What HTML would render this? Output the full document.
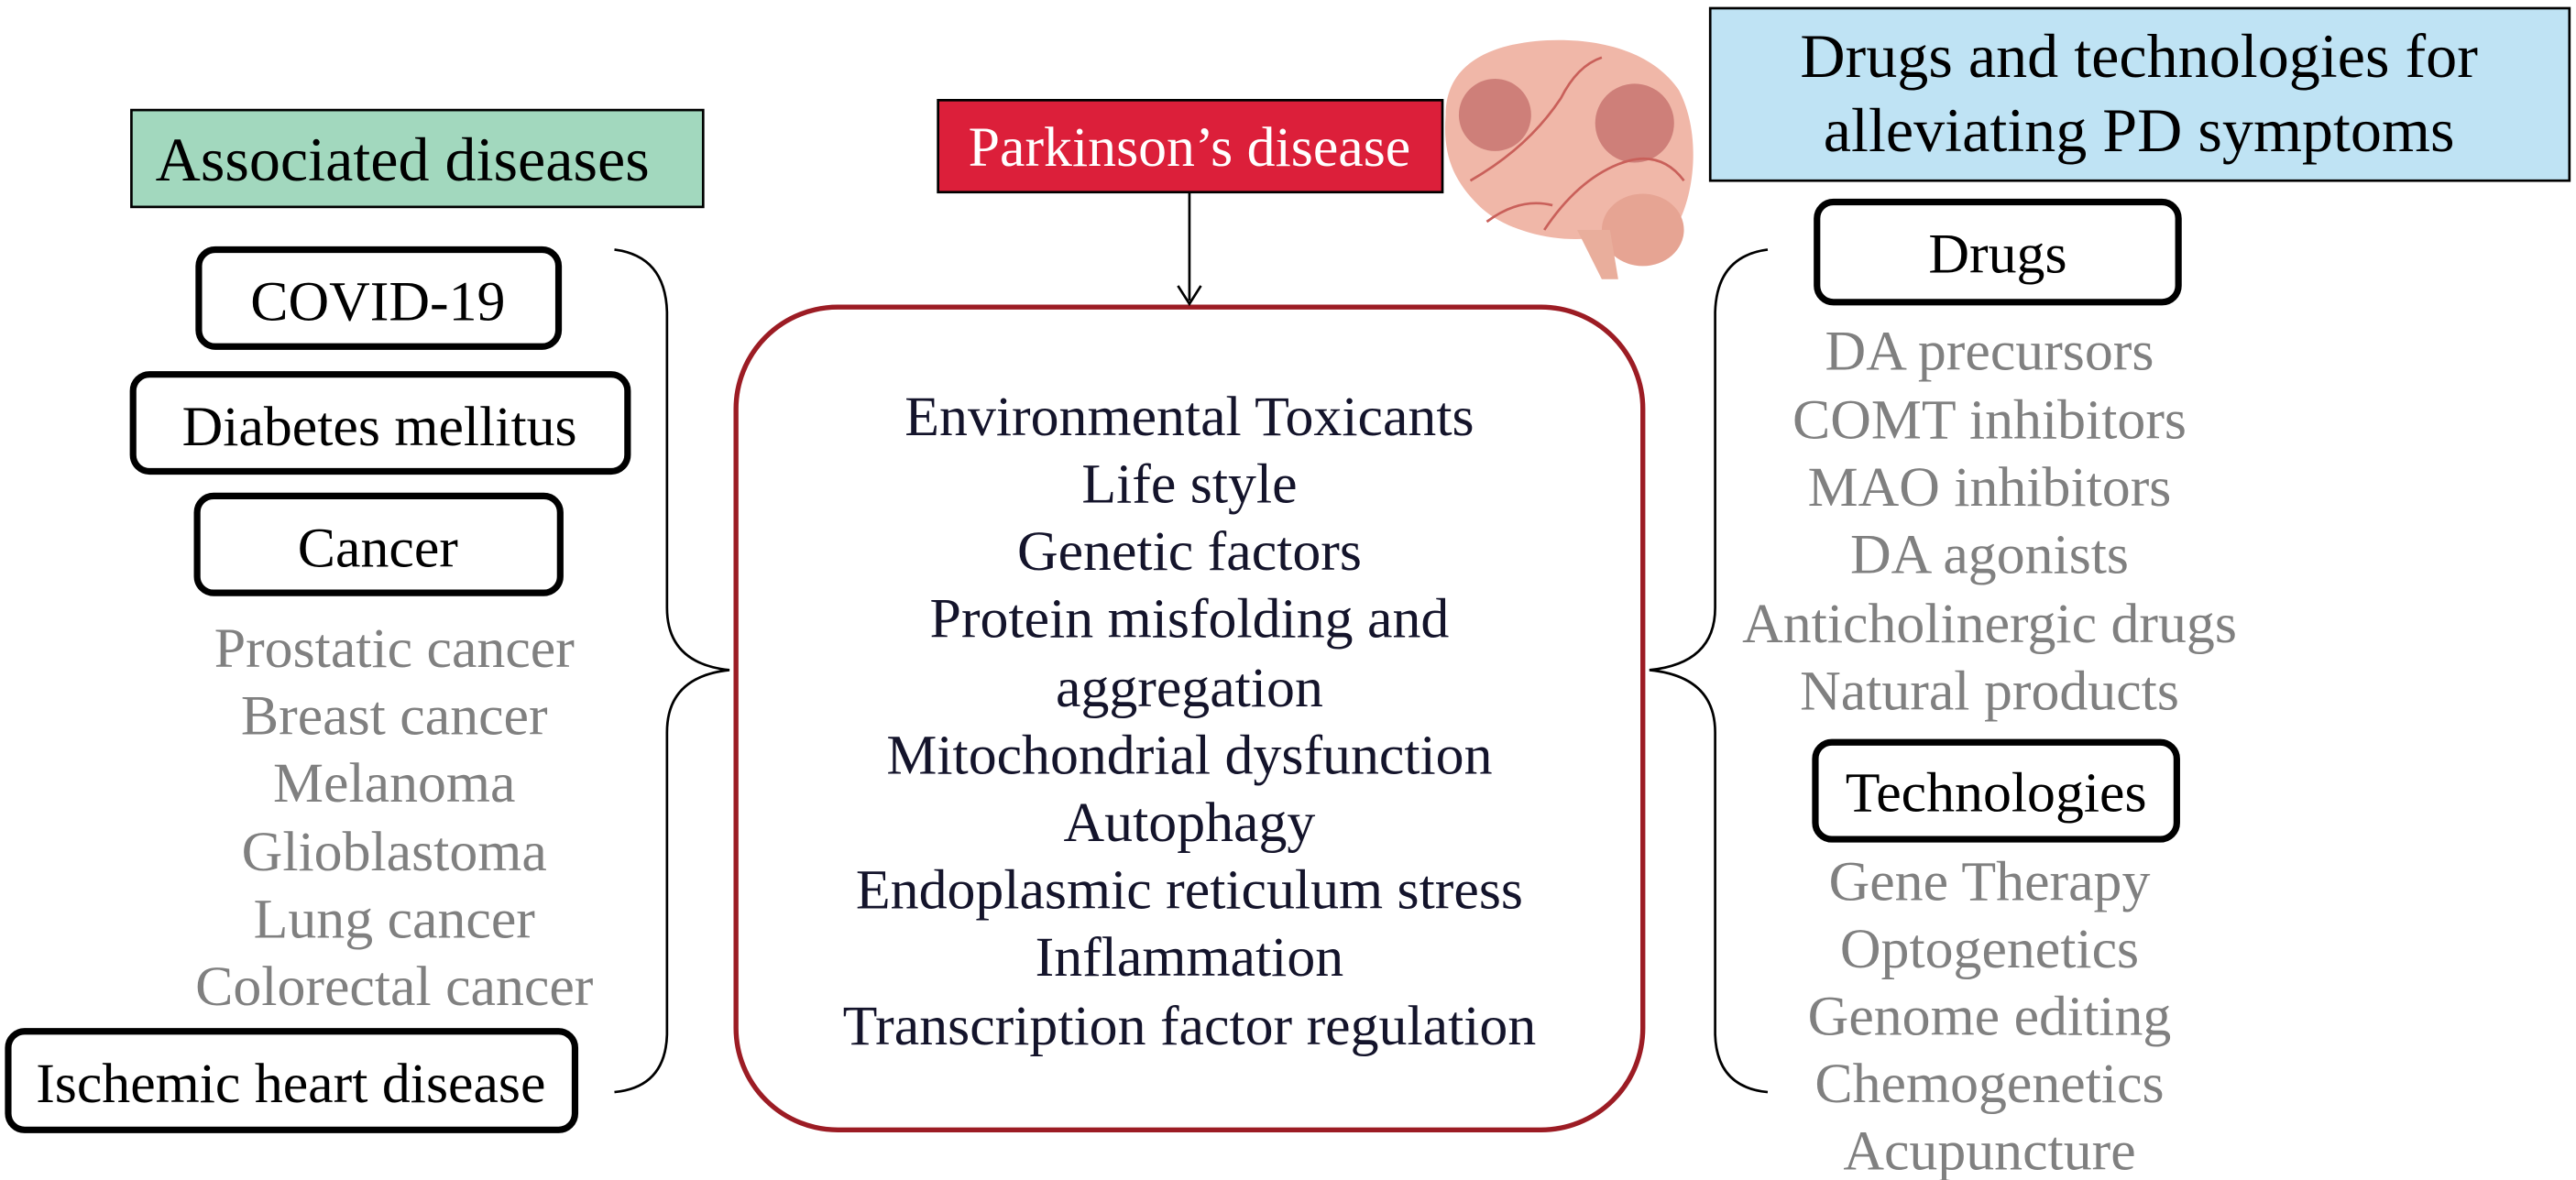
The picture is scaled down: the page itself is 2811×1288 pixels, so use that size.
<!DOCTYPE html>
<html><head><meta charset="utf-8"><style>
html,body{margin:0;padding:0;background:#fff;}
svg{display:block;}
text{font-family:"Liberation Serif",serif;}
</style></head><body>
<svg width="2811" height="1288" viewBox="0 0 1568 718.5" preserveAspectRatio="none" xmlns="http://www.w3.org/2000/svg">
<rect width="1568" height="718.5" fill="#fff"/>
<!-- Associated diseases -->
<rect x="80" y="67" width="348" height="59" fill="#a2d8be" stroke="#000" stroke-width="1.5"/>
<text x="245" y="110" font-size="38" text-anchor="middle">Associated diseases</text>

<g fill="#fff" stroke="#000" stroke-width="4">
<rect x="121" y="152" width="219" height="59" rx="10"/>
<rect x="81" y="228" width="301" height="59" rx="10"/>
<rect x="120" y="302" width="221" height="59" rx="10"/>
<rect x="5" y="628" width="345" height="60" rx="10"/>
<rect x="1106" y="123" width="220" height="61" rx="10"/>
<rect x="1105" y="452" width="220" height="59" rx="10"/>
</g>
<g font-size="34.5" text-anchor="middle" fill="#000">
<text x="230" y="195">COVID-19</text>
<text x="231" y="271">Diabetes mellitus</text>
<text x="230" y="345">Cancer</text>
<text x="177" y="671">Ischemic heart disease</text>
<text x="1216" y="166">Drugs</text>
<text x="1215" y="494">Technologies</text>
</g>
<g font-size="34.5" text-anchor="middle" fill="#808080">
<text x="240" y="406">Prostatic cancer</text>
<text x="240" y="447">Breast cancer</text>
<text x="240" y="488">Melanoma</text>
<text x="240" y="530">Glioblastoma</text>
<text x="240" y="571">Lung cancer</text>
<text x="240" y="612">Colorectal cancer</text>
<text x="1211" y="225">DA precursors</text>
<text x="1211" y="267">COMT  inhibitors</text>
<text x="1211" y="308">MAO inhibitors</text>
<text x="1211" y="349">DA agonists</text>
<text x="1211" y="391">Anticholinergic drugs</text>
<text x="1211" y="432">Natural products</text>
<text x="1211" y="548">Gene Therapy</text>
<text x="1211" y="589">Optogenetics</text>
<text x="1211" y="630">Genome editing</text>
<text x="1211" y="671">Chemogenetics</text>
<text x="1211" y="712">Acupuncture</text>
</g>

<!-- braces -->
<g fill="none" stroke="#000" stroke-width="1.5">
<path d="M374,152 Q405,156 406,190 L406,370 Q406,404 444,408 Q406,412 406,446 L406,630 Q405,662 374,665"/>
<path d="M1076,152 Q1045,156 1044,190 L1044,370 Q1044,404 1004,408 Q1044,412 1044,446 L1044,630 Q1045,662 1076,665"/>
</g>

<!-- central box -->
<rect x="448" y="187" width="552" height="501" rx="62" fill="#fff" stroke="#9c1c24" stroke-width="3"/>
<g font-size="34.5" text-anchor="middle" fill="#14142b">
<text x="724" y="265">Environmental Toxicants</text>
<text x="724" y="306">Life style</text>
<text x="724" y="347">Genetic factors</text>
<text x="724" y="388">Protein misfolding and</text>
<text x="724" y="430">aggregation</text>
<text x="724" y="471">Mitochondrial dysfunction</text>
<text x="724" y="512">Autophagy</text>
<text x="724" y="553">Endoplasmic reticulum stress</text>
<text x="724" y="594">Inflammation</text>
<text x="724" y="636">Transcription factor regulation</text>
</g>

<!-- Parkinson's -->
<rect x="571" y="61" width="307" height="56" fill="#dc1f3a" stroke="#000" stroke-width="1.5"/>
<text x="724" y="101" font-size="34.5" text-anchor="middle" fill="#fff">Parkinson’s disease</text>
<line x1="724" y1="117" x2="724" y2="183" stroke="#000" stroke-width="1.5"/>
<path d="M717,174 L724,185 L731,174" fill="none" stroke="#000" stroke-width="1.5"/>

<!-- brain -->
<g>
<path d="M880,70 C880,40 905,28 935,25 C970,22 1005,30 1022,55 C1035,80 1032,115 1022,135 C1012,150 990,150 970,145 C945,148 915,140 900,125 C885,110 878,95 880,70 Z" fill="#f0b7a8"/>
<ellipse cx="1000" cy="140" rx="25" ry="22" fill="#e6a493"/>
<path d="M960,140 L975,170 L985,170 L980,140 Z" fill="#e9ae9c"/>
<circle cx="910" cy="70" r="22" fill="#b85a5a" opacity="0.6"/>
<circle cx="995" cy="75" r="24" fill="#b85a5a" opacity="0.6"/>
<g stroke="#c9605a" stroke-width="1.5" fill="none">
<path d="M895,110 Q930,90 950,60 Q960,40 975,35"/>
<path d="M940,140 Q960,110 985,100 Q1010,90 1025,110"/>
<path d="M905,135 Q925,120 945,125"/>
</g>
</g>

<!-- right header -->
<rect x="1041" y="5" width="523" height="105" fill="#bfe3f4" stroke="#000" stroke-width="1.5"/>
<g font-size="38" text-anchor="middle" fill="#000">
<text x="1302" y="47">Drugs and technologies for</text>
<text x="1302" y="92">alleviating PD symptoms</text>
</g>
</svg>
</body></html>
